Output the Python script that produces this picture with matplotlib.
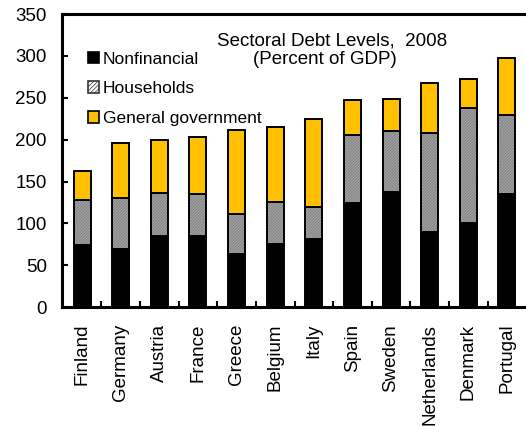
import numpy as np
import matplotlib
matplotlib.use("Agg")
import matplotlib.pyplot as plt
from matplotlib.patches import Patch

plt.rcParams['font.family'] = ['Liberation Sans', 'DejaVu Sans']
plt.rcParams['hatch.linewidth'] = 0.5

countries = ["Finland", "Germany", "Austria", "France", "Greece", "Belgium",
             "Italy", "Spain", "Sweden", "Netherlands", "Denmark", "Portugal"]
# stacked levels, percent of GDP
nonfinancial = [74, 70, 85, 85, 63, 76, 81, 124, 137, 90, 101, 135]
households = [54, 60, 51, 50, 48, 49, 38, 82, 73, 118, 137, 95]
government = [35, 66, 64, 68, 100, 90, 106, 41, 39, 60, 34, 67]

yellow = "#FFC000"
hatch_col = "#5a5a5a"
dense = "/" * 22

fig = plt.figure(figsize=(5.26, 4.26), dpi=100)
ax = fig.add_axes([0.118, 0.279, 0.878, 0.688])

x = np.arange(len(countries))
w = 0.44
nf = np.array(nonfinancial)
hh = np.array(households)
gg = np.array(government)

ax.bar(x, nf, w, color="black", edgecolor="black", linewidth=1.4)
# hatch in grey, outline drawn on top in black
ax.bar(x, hh, w, bottom=nf, color="white", edgecolor=hatch_col,
       linewidth=0, hatch=dense)
ax.bar(x, hh, w, bottom=nf, fill=False, edgecolor="black", linewidth=1.4)
ax.bar(x, gg, w, bottom=nf + hh, color=yellow, edgecolor="black",
       linewidth=1.4)

ax.set_xlim(-0.52, 11.44)
ax.set_ylim(0, 350)
ax.set_yticks(np.arange(0, 351, 50))
ax.set_xticks(x)
ax.set_xticklabels(countries, rotation=90, fontsize=13.5)
ax.set_xticks(x[:-1] + 0.5, minor=True)
ax.tick_params(axis="x", which="major", length=0, pad=12)
ax.tick_params(axis="x", which="minor", direction="in", length=4, width=1.5)
ax.tick_params(axis="y", direction="in", length=4, width=1.5, labelsize=13.5, pad=11)
for s in ax.spines.values():
    s.set_linewidth(2.2)
ax.spines["right"].set_visible(False)

ax.text(0.584, 0.894, "Sectoral Debt Levels,  2008", transform=ax.transAxes,
        ha="center", va="baseline", fontsize=13.5)
ax.text(0.569, 0.829, "(Percent of GDP)", transform=ax.transAxes,
        ha="center", va="baseline", fontsize=13.5)

handles = [Patch(facecolor="black", edgecolor="black", linewidth=1.2),
           Patch(facecolor="white", edgecolor="#333333", linewidth=1.2, hatch="/" * 8),
           Patch(facecolor=yellow, edgecolor="black", linewidth=1.2)]
ax.legend(handles, ["Nonfinancial", "Households", "General government"],
          loc="upper left", bbox_to_anchor=(0.056, 0.872), frameon=False,
          fontsize=12.5, handlelength=0.65, handleheight=0.65, handletextpad=0.2,
          labelspacing=0.85, borderpad=0, borderaxespad=0)

fig.savefig("out.png", dpi=100)
